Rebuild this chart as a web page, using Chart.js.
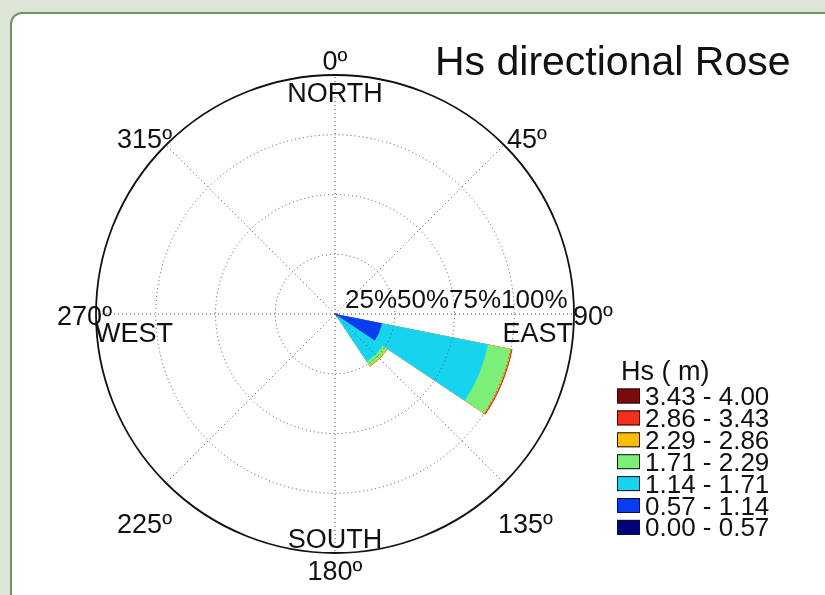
<!DOCTYPE html>
<html>
<head>
<meta charset="utf-8">
<script src="https://cdn.jsdelivr.net/npm/chart.js@4.4.1/dist/chart.umd.min.js"></script>
<style>
  html, body { margin: 0; padding: 0; width: 825px; height: 595px; overflow: hidden; background: #dde5d6; }
  #panel { position: absolute; left: 10px; top: 12px; width: 840px; height: 620px; background: #ffffff;
           border: 2px solid #6e9460; border-radius: 12px; box-sizing: border-box; }
  #rose { position: absolute; left: 0; top: 0; }
</style>
</head>
<body>
<div id="panel"></div>
<canvas id="rose" width="825" height="595"></canvas>
<script>
// 16 compass sectors, clockwise from north
const directions = ['N', 'NNE', 'NE', 'ENE', 'E', 'ESE', 'SE', 'SSE',
                    'S', 'SSW', 'SW', 'WSW', 'W', 'WNW', 'NW', 'NNW'];

// Significant wave height classes (m)
const hsClasses = ['0.00 - 0.57', '0.57 - 1.14', '1.14 - 1.71', '1.71 - 2.29',
                   '2.29 - 2.86', '2.86 - 3.43', '3.43 - 4.00'];
const classColors = ['#00007f', '#0a3cf0', '#16d4f0', '#7bef78', '#f7bd08', '#f3301c', '#7d0a0a'];

// Frequency of occurrence (%) per direction, one array per Hs class
const freqHs000 = [0, 0, 0, 0, 0.3, 1.0, 0.5, 0, 0, 0, 0, 0, 0, 0, 0, 0];
const freqHs057 = [0, 0, 0, 0, 0.8, 19.0, 1.0, 0, 0, 0, 0, 0, 0, 0, 0, 0];
const freqHs114 = [0, 0, 0, 0, 0, 45.3, 22.5, 0, 0, 0, 0, 0, 0, 0, 0, 0];
const freqHs171 = [0, 0, 0, 0, 0, 9.5, 2.0, 0, 0, 0, 0, 0, 0, 0, 0, 0];
const freqHs229 = [0, 0, 0, 0, 0, 0.5, 0.4, 0, 0, 0, 0, 0, 0, 0, 0, 0];
const freqHs286 = [0, 0, 0, 0, 0, 0.3, 0, 0, 0, 0, 0, 0, 0, 0, 0, 0];
const freqHs343 = [0, 0, 0, 0, 0, 0.1, 0, 0, 0, 0, 0, 0, 0, 0, 0, 0];
const classFreqs = [freqHs000, freqHs057, freqHs114, freqHs171, freqHs229, freqHs286, freqHs343];

// Radial rings (%) and their labels
const ringValues = [25, 50, 75, 100];
const ringLabels = ['25%', '50%', '75%', '100%'];

// Compass annotations
const spokeAngles = [0, 45, 90, 135, 180, 225, 270, 315];
const degreeLabels = ['0º', '45º', '90º', '135º', '180º', '225º', '270º', '315º'];
const cardinalLabels = ['NORTH', 'EAST', 'SOUTH', 'WEST'];

const titleText = 'Hs directional Rose';
const legendTitle = 'Hs ( m)';

// Stack the classes: each dataset holds the cumulative total up to its class.
// Dataset 0 is painted last, so the inner classes sit on top of the outer ones.
const cumulative = [];
classFreqs.forEach((arr, k) => {
  cumulative.push(arr.map((v, i) => (k ? cumulative[k - 1][i] : 0) + v));
});

const datasets = cumulative.map((vals, k) => ({
  label: hsClasses[k],
  data: vals,
  backgroundColor: classColors[k],
  borderWidth: 0
}));

const FONT = '"Liberation Sans", Arial, Helvetica, sans-serif';

const roseDecor = {
  id: 'roseDecor',
  afterDatasetsDraw(chart) {
    const ctx = chart.ctx;
    const s = chart.scales.r;
    const cx = s.xCenter, cy = s.yCenter, R = s.drawingArea;
    const toXY = (deg, r) => {
      const a = (deg - 90) * Math.PI / 180;
      return { x: cx + r * Math.cos(a), y: cy + r * Math.sin(a) };
    };
    ctx.save();

    // dotted rings and spokes
    ctx.strokeStyle = '#4e4e4e';
    ctx.lineWidth = 1;
    ctx.setLineDash([1, 3]);
    ringValues.forEach(v => {
      if (v >= s.max) return;
      const r = s.getDistanceFromCenterForValue(v);
      ctx.beginPath();
      ctx.arc(cx, cy, r, 0, Math.PI * 2);
      ctx.stroke();
    });
    spokeAngles.forEach(a => {
      const p = toXY(a, R);
      ctx.beginPath();
      ctx.moveTo(cx, cy);
      ctx.lineTo(p.x, p.y);
      ctx.stroke();
    });

    // solid outer circle
    ctx.setLineDash([]);
    ctx.strokeStyle = '#111111';
    ctx.lineWidth = 1.8;
    ctx.beginPath();
    ctx.arc(cx, cy, R, 0, Math.PI * 2);
    ctx.stroke();

    ctx.fillStyle = '#111111';
    ctx.textBaseline = 'alphabetic';

    // ring labels, written end to end from the centre
    ctx.font = '26px ' + FONT;
    ctx.textAlign = 'left';
    let lx = cx + 10;
    ringLabels.forEach(t => {
      ctx.fillText(t, lx, cy - 6);
      lx += ctx.measureText(t).width;
    });

    // degree labels
    ctx.font = '27px ' + FONT;
    const top = cy - R, bottom = cy + R, left = cx - R, right = cx + R;
    const d45 = toXY(45, R), d315 = toXY(315, R), d135 = toXY(135, R), d225 = toXY(225, R);
    const degPlace = [
      { x: cx, y: top - 5, align: 'center' },
      { x: d45.x + 3, y: d45.y + 3, align: 'left' },
      { x: right - 1, y: cy + 11, align: 'left' },
      { x: d135.x - 6, y: d135.y + 50, align: 'left' },
      { x: cx, y: bottom + 27, align: 'center' },
      { x: d225.x + 6, y: d225.y + 50, align: 'right' },
      { x: left + 16, y: cy + 11, align: 'right' },
      { x: d315.x + 6, y: d315.y + 3, align: 'right' }
    ];
    degreeLabels.forEach((t, i) => {
      ctx.textAlign = degPlace[i].align;
      ctx.fillText(t, degPlace[i].x, degPlace[i].y);
    });

    // cardinal labels
    const cardPlace = [
      { x: cx, y: top + 27, align: 'center' },
      { x: right - 1, y: cy + 28, align: 'right' },
      { x: cx, y: bottom - 5, align: 'center' },
      { x: left - 1, y: cy + 28, align: 'left' }
    ];
    cardinalLabels.forEach((t, i) => {
      ctx.textAlign = cardPlace[i].align;
      ctx.fillText(t, cardPlace[i].x, cardPlace[i].y);
    });

    // title
    ctx.font = '41px ' + FONT;
    ctx.textAlign = 'left';
    ctx.fillText(titleText, 435, 75);

    // legend, highest class on top
    ctx.font = '27px ' + FONT;
    ctx.fillText(legendTitle, 621, 380);
    ctx.font = '26px ' + FONT;
    const rowH = 21.9;
    for (let j = 0; j < hsClasses.length; j++) {
      const k = hsClasses.length - 1 - j;
      const yc = 396 + j * rowH;
      ctx.fillStyle = classColors[k];
      ctx.fillRect(617, yc - 7.5, 23, 15);
      ctx.strokeStyle = '#111111';
      ctx.lineWidth = 1;
      ctx.strokeRect(617.5, yc - 7, 22, 14);
      ctx.fillStyle = '#111111';
      ctx.fillText(hsClasses[k], 645, yc + 9);
    }
    ctx.restore();
  }
};

new Chart(document.getElementById('rose'), {
  type: 'polarArea',
  data: { labels: directions, datasets },
  options: {
    responsive: false,
    animation: false,
    layout: { padding: { left: 96, top: 75, right: 251, bottom: 42 } },
    scales: {
      r: {
        min: 0,
        max: 100,
        startAngle: -11.25,
        ticks: { display: false, stepSize: 25 },
        grid: { display: false },
        angleLines: { display: false },
        pointLabels: { display: false }
      }
    },
    plugins: {
      legend: { display: false },
      tooltip: { enabled: false },
      title: { display: false }
    }
  },
  plugins: [roseDecor]
});
</script>
</body>
</html>
